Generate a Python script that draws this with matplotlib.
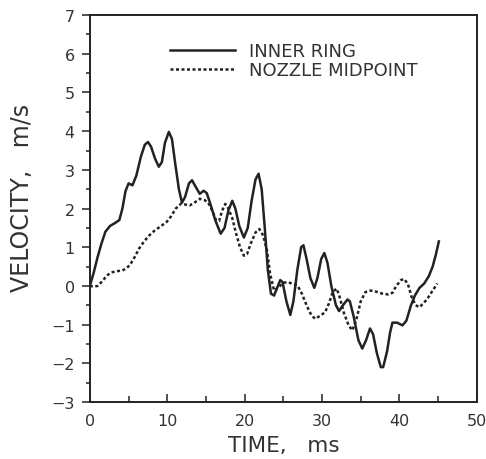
import matplotlib
matplotlib.use('Agg')
from matplotlib import pyplot as plt
from matplotlib.ticker import MultipleLocator

plt.rcParams['font.family'] = ['DejaVu Sans']

# inner ring velocity (m/s) vs time (ms)
t_inner = [0.0, 0.5, 1.0, 1.5, 2.0, 2.6, 3.2, 3.8, 4.2, 4.6, 5.0, 5.5, 6.0,
           6.6, 7.1, 7.5, 7.9, 8.4, 8.9, 9.3, 9.7, 10.2, 10.6, 11.0, 11.5,
           11.9, 12.3, 12.8, 13.2, 13.7, 14.2, 14.7, 15.1, 15.6, 16.2, 16.9,
           17.4, 17.9, 18.4, 18.8, 19.3, 19.9, 20.4, 20.9, 21.4, 21.8, 22.2,
           22.6, 23.0, 23.4, 23.8, 24.2, 24.6, 24.9, 25.4, 25.9, 26.3, 26.8,
           27.3, 27.6, 28.0, 28.5, 29.0, 29.4, 29.9, 30.3, 30.7, 31.2, 31.8,
           32.2, 32.7, 33.3, 33.6, 34.1, 34.7, 35.2, 35.7, 36.2, 36.6, 37.1,
           37.6, 37.9, 38.4, 38.8, 39.1, 39.7, 40.4, 40.9, 41.5, 42.0, 42.6,
           43.2, 43.8, 44.3, 44.7, 45.1]
v_inner = [0.0, 0.35, 0.75, 1.1, 1.4, 1.55, 1.62, 1.7, 2.0, 2.45, 2.65, 2.6,
           2.85, 3.35, 3.65, 3.72, 3.6, 3.3, 3.08, 3.2, 3.7, 3.98, 3.8, 3.2,
           2.5, 2.15, 2.3, 2.65, 2.73, 2.55, 2.38, 2.46, 2.4, 2.1, 1.7, 1.35,
           1.5, 1.95, 2.2, 2.0, 1.55, 1.25, 1.5, 2.2, 2.75, 2.9, 2.5, 1.5, 0.4,
           -0.2, -0.25, -0.05, 0.15, 0.1, -0.4, -0.75, -0.4, 0.4, 1.0, 1.05,
           0.7, 0.2, -0.05, 0.2, 0.7, 0.85, 0.6, 0.0, -0.5, -0.65, -0.5, -0.35,
           -0.4, -0.8, -1.4, -1.62, -1.4, -1.1, -1.25, -1.75, -2.1, -2.1, -1.7,
           -1.2, -0.95, -0.95, -1.02, -0.9, -0.5, -0.25, -0.05, 0.06, 0.25,
           0.5, 0.8, 1.15]

# nozzle midpoint velocity (m/s) vs time (ms)
t_nozzle = [0.0, 0.5, 1.0, 1.6, 2.2, 2.8, 3.5, 4.2, 4.7, 5.2, 5.8, 6.4, 7.0,
            7.7, 8.3, 9.0, 9.9, 10.5, 11.1, 11.8, 12.4, 12.9, 13.5, 14.2,
            14.8, 15.3, 15.8, 16.3, 16.7, 17.1, 17.5, 17.9, 18.4, 18.9, 19.4,
            19.9, 20.3, 20.8, 21.4, 21.9, 22.4, 22.9, 23.3, 23.8, 24.3, 25.0,
            25.6, 26.2, 26.8, 27.4, 28.0, 28.6, 29.1, 29.7, 30.4, 30.9, 31.4,
            31.9, 32.3, 32.8, 33.4, 33.9, 34.4, 35.0, 35.6, 36.3, 37.0, 37.8,
            38.5, 39.1, 39.6, 40.2, 40.6, 41.1, 41.6, 42.1, 42.6, 43.1, 43.6,
            44.2, 44.9]
v_nozzle = [0.0, -0.02, 0.0, 0.12, 0.27, 0.35, 0.38, 0.4, 0.45, 0.55, 0.75,
            0.98, 1.15, 1.31, 1.42, 1.52, 1.65, 1.8, 2.0, 2.13, 2.1, 2.08,
            2.15, 2.25, 2.22, 2.15, 1.95, 1.7, 1.68, 1.95, 2.12, 2.0, 1.75,
            1.35, 1.0, 0.78, 0.82, 1.1, 1.38, 1.47, 1.3, 0.9, 0.3, -0.12,
            -0.05, 0.08, 0.1, 0.05, 0.02, -0.2, -0.5, -0.75, -0.85, -0.78,
            -0.68, -0.45, -0.15, -0.07, -0.3, -0.68, -1.0, -1.15, -0.9, -0.4,
            -0.16, -0.12, -0.15, -0.2, -0.22, -0.18, 0.0, 0.15, 0.18, 0.05,
            -0.3, -0.5, -0.55, -0.45, -0.34, -0.15, 0.06]

fig = plt.figure(figsize=(4.86, 4.60), dpi=100)
ax = fig.add_axes([0.185, 0.124, 0.796, 0.841])

ink = '#222222'
ax.plot(t_inner, v_inner, color=ink, lw=1.8, label='INNER RING')
ax.plot(t_nozzle, v_nozzle, color=ink, lw=1.8, linestyle=(0, (1.2, 1.0)),
        label='NOZZLE MIDPOINT')

ax.set_xlim(0, 50)
ax.set_ylim(-3, 7)
ax.xaxis.set_major_locator(MultipleLocator(10))
ax.xaxis.set_minor_locator(MultipleLocator(5))
ax.yaxis.set_major_locator(MultipleLocator(1))
ax.yaxis.set_minor_locator(MultipleLocator(0.5))
ax.tick_params(axis='both', which='both', labelsize=11.5, color=ink,
               labelcolor='#333333', width=1.1)
ax.tick_params(axis='x', which='major', direction='in', length=6, pad=8)
ax.tick_params(axis='x', which='minor', direction='in', length=4)
ax.tick_params(axis='y', which='major', direction='out', length=6, pad=5)
ax.tick_params(axis='y', which='minor', direction='out', length=3)
for s in ax.spines.values():
    s.set_linewidth(1.4)
    s.set_color(ink)

ax.set_xlabel('TIME,   ms', fontsize=15.5, color='#333333', labelpad=5)
ax.set_ylabel('VELOCITY,   m/s', fontsize=17, color='#333333')
ax.yaxis.set_label_coords(-0.145, 0.53)

ax.legend(loc='upper left', bbox_to_anchor=(0.207, 0.93), frameon=False,
          fontsize=13, handlelength=3.6, handletextpad=0.8,
          labelspacing=0.05, borderpad=0, borderaxespad=0,
          labelcolor='#333333')

plt.savefig('out.png', dpi=100)
